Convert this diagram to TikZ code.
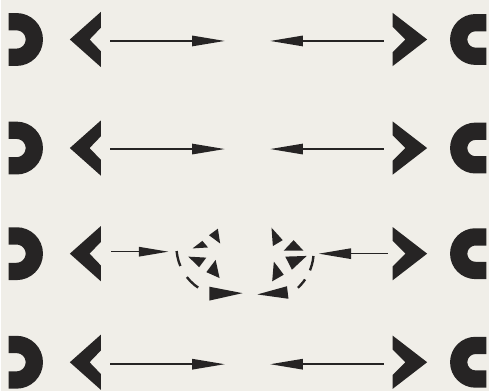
\documentclass[tikz,border=0pt]{standalone}
\usepackage{tikz}
\usetikzlibrary{arrows.meta}
\definecolor{tinta}{RGB}{38,36,36}
\definecolor{papel}{RGB}{240,238,232}
\tikzset{
  gancho/.style={draw=tinta, line width=17.5pt, line cap=butt},
  punta/.style={fill=tinta},
  fl/.style={-{Triangle[length=33pt,width=10.5pt]}, line width=1.6pt, tinta},
  flc/.style={-{Triangle[length=30pt,width=9.5pt]}, line width=1.6pt, tinta},
  trazo/.style={draw=tinta, line width=2.4pt},
}

\begin{document}
\begin{tikzpicture}[x=1pt,y=-1pt]
  \fill[papel] (0,0) rectangle (495,396);
  % marks at both sides of every row
  \foreach \r/\y in {1/40,2/150,3/257,4/367}{
    \begin{scope}[shift={(0,\y)}]
      \draw[gancho] (8,-18) -- (16,-18) arc[start angle=-90,end angle=90,radius=18] -- (8,18);
      \draw[gancho] (492,-17) -- (481,-17) arc[start angle=-90,end angle=-270,radius=17] -- (492,17);
      \fill[punta] (70,0) -- (101.5,-28) -- (101.5,-12) -- (90,0) -- (101.5,12) -- (101.5,28) -- cycle;
      \fill[punta] (432,0) -- (397,-27) -- (397,-13) -- (410,0) -- (397,13) -- (397,27) -- cycle;
    \end{scope}
  }
  % full arrows, rows 1, 2 and 4
  \foreach \r/\y in {1/41.5,2/151,4/369}{
    \coordinate (a\r) at (111,\y); \coordinate (b\r) at (227,\y);
    \coordinate (c\r) at (388,\y); \coordinate (d\r) at (273,\y);
    \draw[fl] (a\r) -- (b\r);
    \draw[fl] (c\r) -- (d\r);
  }
  % row 3: arrows that break up
  \coordinate (a3) at (112,255); \coordinate (b3) at (170,255);
  \coordinate (c3) at (392,257); \coordinate (d3) at (322,257);
  \draw[flc] (a3) -- (b3);
  \draw[fl] (c3) -- (d3);
  \draw[trazo, dash pattern=on 15.7pt off 13pt] ([shift={(175:50)}]228,250) arc[start angle=175,end angle=123,radius=50];
  \draw[trazo, dash pattern=on 15pt off 10.5pt] ([shift={(5:50)}]267,255) arc[start angle=5,end angle=47,radius=50];
  % left pieces
  \fill[punta] (211,238.3) -- (220,231.7) -- (222.3,246.7) -- cycle;
  \fill[punta] (194.3,251.7) -- (204.3,244) -- (210,250.7) -- cycle;
  \fill[punta] (190,260) -- (208.3,261) -- (201,270.7) -- cycle;
  \fill[punta] (217.7,263.3) -- (208.3,275.7) -- (221.7,281.7) -- cycle;
  \fill[punta] (211.5,290.5) -- (245,297) -- (211.5,304.5) -- cycle;
  % right pieces
  \fill[punta] (274.3,230.7) -- (285.7,243.3) -- (275.7,249.3) -- cycle;
  \fill[punta] (296.7,243.3) -- (306.7,254) -- (286.7,254) -- cycle;
  \fill[punta] (288.3,260) -- (310,259.3) -- (295,273.3) -- cycle;
  \fill[punta] (276.7,265) -- (286.7,278.3) -- (275,285) -- cycle;
  \fill[punta] (290,290) -- (260,298.3) -- (291.5,302.7) -- cycle;
\end{tikzpicture}
\end{document}
